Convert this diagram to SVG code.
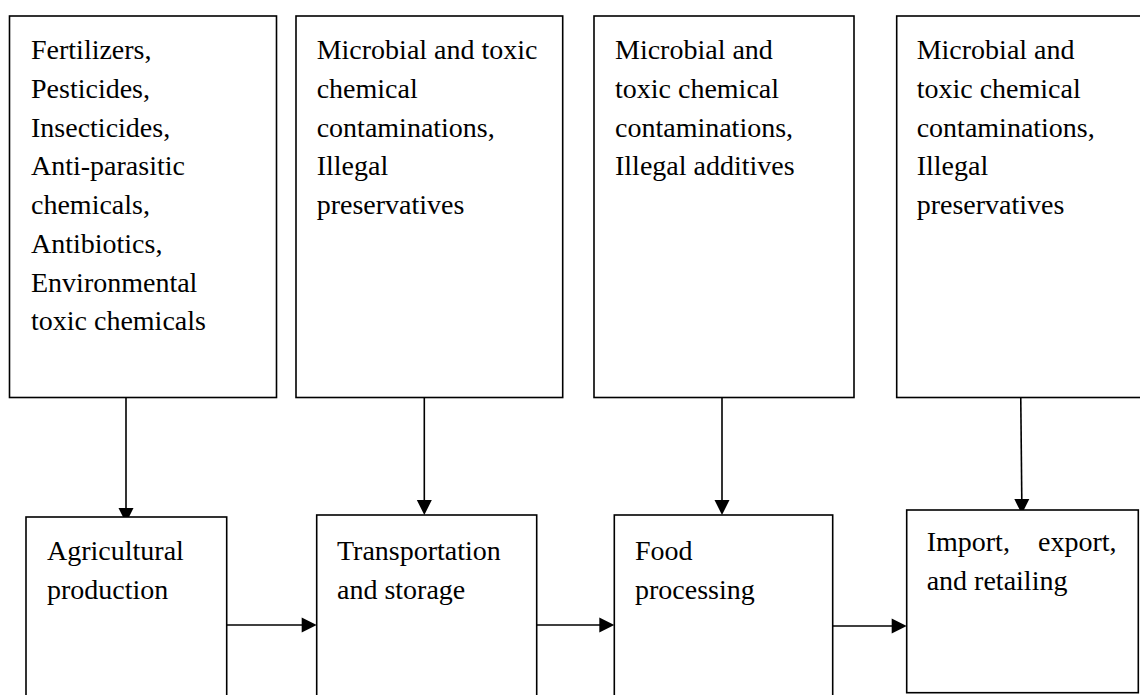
<svg xmlns="http://www.w3.org/2000/svg" width="1140" height="695" viewBox="0 0 1140 695">
<style>
.box{fill:#fff;stroke:#000;stroke-width:1.6}
.t{font-family:"Liberation Serif","Times New Roman",serif;font-size:28px;fill:#000}
.ln{stroke:#000;stroke-width:1.6;fill:none}
.ah{fill:#000;stroke:none}
</style>
<rect width="1140" height="695" fill="#fff"/>
<g id="connectors">
<line class="ln" x1="126" y1="397.5" x2="126" y2="510"/>
<polygon class="ah" points="118.5,508 133.5,508 126,523"/>
<line class="ln" x1="424.3" y1="391.7" x2="424.3" y2="500"/>
<polygon class="ah" points="416.8,500 431.8,500 424.3,515"/>
<line class="ln" x1="722" y1="391.7" x2="722" y2="500"/>
<polygon class="ah" points="714.5,500 729.5,500 722,515"/>
<line class="ln" x1="1020.7" y1="391.7" x2="1021.8" y2="500"/>
<polygon class="ah" points="1014.3,499 1029.3,499 1021.8,514"/>
<line class="ln" x1="226.7" y1="625" x2="302" y2="625"/>
<polygon class="ah" points="301.7,617.5 301.7,632.5 316.7,625"/>
<line class="ln" x1="536.7" y1="625" x2="600" y2="625"/>
<polygon class="ah" points="599.3,617.5 599.3,632.5 614.3,625"/>
<line class="ln" x1="832.7" y1="626" x2="892" y2="626"/>
<polygon class="ah" points="891.7,618.5 891.7,633.5 906.7,626"/>
</g>
<g id="src1">
<rect class="box" x="9.5" y="16" width="267" height="381.5"/>
<text class="t" x="31" y="59">Fertilizers,</text>
<text class="t" x="31" y="98">Pesticides,</text>
<text class="t" x="31" y="137">Insecticides,</text>
<text class="t" x="31" y="175">Anti-parasitic</text>
<text class="t" x="31" y="214">chemicals,</text>
<text class="t" x="31" y="253">Antibiotics,</text>
<text class="t" x="31" y="292">Environmental</text>
<text class="t" x="31" y="330">toxic chemicals</text>
</g>
<g id="src2">
<rect class="box" x="296" y="16" width="266.7" height="381.5"/>
<text class="t" x="316.7" y="59">Microbial and toxic</text>
<text class="t" x="316.7" y="98">chemical</text>
<text class="t" x="316.7" y="137">contaminations,</text>
<text class="t" x="316.7" y="175">Illegal</text>
<text class="t" x="316.7" y="214">preservatives</text>
</g>
<g id="src3">
<rect class="box" x="594" y="16" width="260" height="381.5"/>
<text class="t" x="615" y="59">Microbial and</text>
<text class="t" x="615" y="98">toxic chemical</text>
<text class="t" x="615" y="137">contaminations,</text>
<text class="t" x="615" y="175">Illegal additives</text>
</g>
<g id="src4">
<rect class="box" x="896.7" y="16" width="260" height="381.5"/>
<text class="t" x="916.7" y="59">Microbial and</text>
<text class="t" x="916.7" y="98">toxic chemical</text>
<text class="t" x="916.7" y="137">contaminations,</text>
<text class="t" x="916.7" y="175">Illegal</text>
<text class="t" x="916.7" y="214">preservatives</text>
</g>
<g id="stage1">
<rect class="box" x="26" y="517" width="200.7" height="200"/>
<text class="t" x="47" y="560">Agricultural</text>
<text class="t" x="47" y="599">production</text>
</g>
<g id="stage2">
<rect class="box" x="316.7" y="515" width="220" height="200"/>
<text class="t" x="337" y="560">Transportation</text>
<text class="t" x="337" y="599">and storage</text>
</g>
<g id="stage3">
<rect class="box" x="614.3" y="515" width="218.4" height="200"/>
<text class="t" x="635" y="560">Food</text>
<text class="t" x="635" y="599">processing</text>
</g>
<g id="stage4">
<rect class="box" x="906.7" y="510" width="231.6" height="182.7"/>
<text class="t" x="926.7" y="551">Import,</text>
<text class="t" x="1038" y="551">export,</text>
<text class="t" x="926.7" y="590">and retailing</text>
</g>
</svg>
